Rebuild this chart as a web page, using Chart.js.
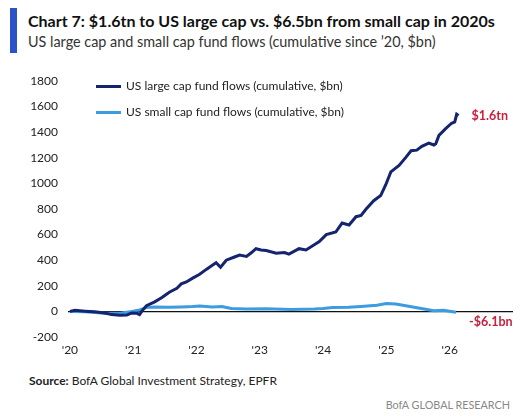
<!DOCTYPE html>
<html lang="en">
<head>
<meta charset="UTF-8">
<title>Chart 7</title>
<script src="https://cdn.jsdelivr.net/npm/chart.js@4.4.1/dist/chart.umd.min.js"></script>
<style>
    body { margin: 0; width: 532px; height: 416px; background: #fff; position: relative; overflow: hidden; font-family: Lato, "Open Sans", sans-serif; color: #111; }
    .bar { position: absolute; left: 10px; top: 8px; width: 7px; height: 45px; background: #2a52c9; }
    .title { position: absolute; left: 28px; top: 11px; font-size: 16px; font-weight: bold; white-space: nowrap; }
    .subtitle { position: absolute; left: 28px; top: 33px; font-size: 14.4px; color: #333; white-space: nowrap; }
    .legend { position: absolute; left: 96px; font-size: 12px; color: #222; white-space: nowrap; }
    .legend span { display: inline-block; width: 25px; height: 3px; vertical-align: middle; margin-right: 5px; }
    .source { position: absolute; left: 29px; top: 373px; font-size: 12px; color: #222; }
    .brand { position: absolute; right: 22px; top: 398px; font-size: 10.8px; color: #888; }
    #wrap { position: absolute; left: 0; top: 60px; width: 532px; height: 310px; }
</style>
</head>
<body>
<div class="bar"></div>
<div class="title">Chart 7: $1.6tn to US large cap vs. $6.5bn from small cap in 2020s</div>
<div class="subtitle">US large cap and small cap fund flows (cumulative since ’20, $bn)</div>
<div id="wrap"><canvas id="myChart"></canvas></div>
<div id="legend"></div>
<div class="source"><b>Source:</b> BofA Global Investment Strategy, EPFR</div>
<div class="brand">BofA GLOBAL RESEARCH</div>
<script>
    // cumulative flows, $bn (x = fractional year)
    const largeYears = [2020.00, 2020.08, 2020.24, 2020.39, 2020.55, 2020.66, 2020.79, 2020.90, 2020.98, 2021.06,
        2021.10, 2021.15, 2021.21, 2021.34, 2021.46, 2021.57, 2021.69, 2021.76, 2021.84, 2021.94,
        2022.05, 2022.16, 2022.25, 2022.31, 2022.38, 2022.47, 2022.60, 2022.68, 2022.79, 2022.87,
        2022.94, 2023.02, 2023.10, 2023.26, 2023.39, 2023.46, 2023.62, 2023.73, 2023.86, 2023.94,
        2024.05, 2024.20, 2024.30, 2024.41, 2024.52, 2024.60, 2024.68, 2024.80, 2024.91, 2024.99,
        2025.07, 2025.20, 2025.31, 2025.39, 2025.48, 2025.56, 2025.67, 2025.75, 2025.78, 2025.83,
        2025.94, 2026.03, 2026.08, 2026.11, 2026.14];
    const largeVals = [0, 8, 2, -3, -12, -25, -30, -28, -12, -15,
        -25, 10, 45, 75, 110, 150, 180, 215, 230, 260,
        290, 330, 360, 380, 345, 400, 425, 440, 430, 460,
        490, 480, 475, 455, 460, 448, 490, 480, 520, 545,
        600, 620, 690, 675, 740, 750, 800, 865, 905, 990,
        1090, 1140, 1205, 1255, 1260, 1290, 1315, 1300, 1310, 1375,
        1430, 1470, 1480, 1540, 1530];

    const smallYears = [2020.00, 2020.24, 2020.39, 2020.55, 2020.79, 2020.98, 2021.10, 2021.21, 2021.34, 2021.57,
        2021.76, 2021.94, 2022.05, 2022.25, 2022.40, 2022.55, 2022.79, 2023.10, 2023.50, 2023.86,
        2024.00, 2024.15, 2024.40, 2024.60, 2024.85, 2025.00, 2025.15, 2025.35, 2025.55, 2025.75,
        2025.90, 2026.10];
    const smallVals = [0, -3, -8, -15, -15, 0, 12, 30, 35, 32,
        35, 38, 42, 35, 38, 22, 18, 20, 15, 18,
        22, 30, 32, 38, 48, 62, 58, 40, 22, 5,
        8, -6];

    const yearTicks = [2020, 2021, 2022, 2023, 2024, 2025, 2026];
    const seriesNames = ['US large cap fund flows (cumulative, $bn)', 'US small cap fund flows (cumulative, $bn)'];
    const endLabels = ['$1.6tn', '-$6.1bn'];

    const colors = ['#14246e', '#3d9be0'];

    const toPoints = (xs, ys) => xs.map((x, i) => ({ x: x, y: ys[i] }));

    // legend drawn as html, inside the plot
    const legendBox = document.getElementById('legend');
    seriesNames.forEach(function (name, i) {
        const d = document.createElement('div');
        d.className = 'legend';
        d.style.top = (78 + i * 26) + 'px';
        d.innerHTML = '<span style="background:' + colors[i] + '"></span>' + name;
        legendBox.appendChild(d);
    });

    const endLabelPlugin = {
        id: 'endLabels',
        afterDatasetsDraw(chart) {
            const ctx = chart.ctx;
            ctx.save();
            ctx.font = 'bold 12.5px Lato, sans-serif';
            ctx.fillStyle = '#c8203c';
            ctx.textBaseline = 'middle';
            chart.data.datasets.forEach(function (ds, i) {
                const pts = chart.getDatasetMeta(i).data;
                const p = pts[pts.length - 1];
                ctx.fillText(endLabels[i], p.x + 13, p.y + (i === 1 ? 10 : 0));
            });
            ctx.restore();
        }
    };

    const ctx = document.getElementById('myChart').getContext('2d');
    const myChart = new Chart(ctx, {
        type: 'line',
        data: {
            datasets: [
                { label: seriesNames[0], data: toPoints(largeYears, largeVals), borderColor: colors[0], borderWidth: 3, pointRadius: 0, tension: 0 },
                { label: seriesNames[1], data: toPoints(smallYears, smallVals), borderColor: colors[1], borderWidth: 3, pointRadius: 0, tension: 0 }
            ]
        },
        options: {
            responsive: true,
            maintainAspectRatio: false,
            animation: false,
            layout: { padding: { top: 21, right: 19, bottom: 8, left: 0 } },
            plugins: { legend: { display: false }, tooltip: { enabled: false } },
            scales: {
                x: {
                    type: 'linear',
                    min: 2019.97,
                    max: 2027,
                    afterBuildTicks: function (axis) { axis.ticks = yearTicks.map(v => ({ value: v })); },
                    afterFit: function (axis) { axis.height = 25; },
                    grid: { display: false, drawTicks: false },
                    border: { display: false },
                    ticks: {
                        padding: 6,
                        color: '#222',
                        font: { family: 'Lato', size: 12 },
                        callback: v => "'" + String(v).slice(2)
                    }
                },
                y: {
                    min: -200,
                    max: 1800,
                    afterFit: function (axis) { axis.width = 68; },
                    grid: {
                        drawTicks: false,
                        color: c => c.tick.value === 0 ? '#111' : 'rgba(0,0,0,0)',
                        lineWidth: 1.3
                    },
                    border: { display: false },
                    ticks: {
                        stepSize: 200,
                        padding: 10,
                        color: '#222',
                        font: { family: 'Lato', size: 12 },
                        callback: v => String(v)
                    }
                }
            }
        },
        plugins: [endLabelPlugin]
    });
</script>
</body>
</html>
